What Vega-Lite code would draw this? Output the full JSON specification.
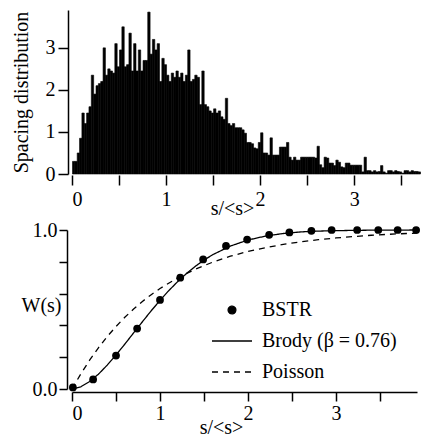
{
  "$schema": "https://vega.github.io/schema/vega-lite/v6.json",
  "padding": {"left": 10, "top": 10, "right": 0, "bottom": 0},
  "background": "white",
  "bounds": "flush",
  "spacing": 56,
  "config": {
    "font": "Liberation Serif",
    "view": {"stroke": null},
    "axis": {
      "grid": false,
      "labelFont": "Liberation Serif",
      "titleFont": "Liberation Serif",
      "labelFontSize": 20,
      "titleFontSize": 20,
      "labelColor": "black",
      "titleColor": "black",
      "titleFontWeight": "normal",
      "domainColor": "black",
      "tickColor": "black",
      "domainWidth": 1.5,
      "tickWidth": 1.5,
      "labelOverlap": false
    }
  },
  "datasets": {
    "hist": [
      {"s":0,"h":0.3},{"s":0.025,"h":0.3},{"s":0.05,"h":0.5},{"s":0.075,"h":0.85},{"s":0.1,"h":1.45},{"s":0.125,"h":1.2},{"s":0.15,"h":1.45},{"s":0.175,"h":1.6},
      {"s":0.2,"h":2.35},{"s":0.225,"h":1.9},{"s":0.25,"h":2.1},{"s":0.275,"h":2.15},{"s":0.3,"h":2.2},{"s":0.325,"h":3.0},{"s":0.35,"h":2.35},{"s":0.375,"h":2.5},
      {"s":0.4,"h":2.45},{"s":0.425,"h":2.4},{"s":0.45,"h":3.1},{"s":0.475,"h":2.55},{"s":0.5,"h":2.95},{"s":0.525,"h":3.5},{"s":0.55,"h":2.55},{"s":0.575,"h":2.6},
      {"s":0.6,"h":3.35},{"s":0.625,"h":2.45},{"s":0.65,"h":3.1},{"s":0.675,"h":2.45},{"s":0.7,"h":2.95},{"s":0.725,"h":2.45},{"s":0.75,"h":2.7},{"s":0.775,"h":2.7},
      {"s":0.8,"h":3.85},{"s":0.825,"h":2.85},{"s":0.85,"h":3.2},{"s":0.875,"h":2.95},{"s":0.9,"h":3.1},{"s":0.925,"h":2.2},{"s":0.95,"h":2.75},{"s":0.975,"h":2.6},
      {"s":1.0,"h":2.35},{"s":1.025,"h":2.2},{"s":1.05,"h":2.4},{"s":1.075,"h":2.3},{"s":1.1,"h":2.45},{"s":1.125,"h":2.3},{"s":1.15,"h":2.4},{"s":1.175,"h":2.2},
      {"s":1.2,"h":2.35},{"s":1.225,"h":2.95},{"s":1.25,"h":2.2},{"s":1.275,"h":2.25},{"s":1.3,"h":2.35},{"s":1.325,"h":2.3},{"s":1.35,"h":1.65},{"s":1.375,"h":2.45},
      {"s":1.4,"h":1.65},{"s":1.425,"h":1.6},{"s":1.45,"h":1.5},{"s":1.475,"h":1.45},{"s":1.5,"h":1.55},{"s":1.525,"h":1.45},{"s":1.55,"h":1.5},{"s":1.575,"h":1.36},
      {"s":1.6,"h":1.3},{"s":1.625,"h":1.8},{"s":1.65,"h":1.2},{"s":1.675,"h":1.15},{"s":1.7,"h":1.2},{"s":1.725,"h":1.1},{"s":1.75,"h":1.1},{"s":1.775,"h":1.1},
      {"s":1.8,"h":1.05},{"s":1.825,"h":0.97},{"s":1.85,"h":0.75},{"s":1.875,"h":0.75},{"s":1.9,"h":0.72},{"s":1.925,"h":0.62},{"s":1.95,"h":0.6},{"s":1.975,"h":0.75},
      {"s":2.0,"h":0.98},{"s":2.025,"h":0.5},{"s":2.05,"h":0.5},{"s":2.075,"h":0.45},{"s":2.1,"h":0.86},{"s":2.125,"h":0.45},{"s":2.15,"h":0.45},{"s":2.175,"h":0.45},
      {"s":2.2,"h":0.64},{"s":2.225,"h":0.64},{"s":2.25,"h":0.64},{"s":2.275,"h":0.75},{"s":2.3,"h":0.4},{"s":2.325,"h":0.33},{"s":2.35,"h":0.4},{"s":2.375,"h":0.33},
      {"s":2.4,"h":0.33},{"s":2.425,"h":0.4},{"s":2.45,"h":0.4},{"s":2.475,"h":0.4},{"s":2.5,"h":0.4},{"s":2.525,"h":0.4},{"s":2.55,"h":0.4},{"s":2.575,"h":0.38},
      {"s":2.6,"h":0.66},{"s":2.625,"h":0.22},{"s":2.65,"h":0.15},{"s":2.675,"h":0.4},{"s":2.7,"h":0.38},{"s":2.725,"h":0.26},{"s":2.75,"h":0.26},{"s":2.775,"h":0.2},
      {"s":2.8,"h":0.33},{"s":2.825,"h":0.28},{"s":2.85,"h":0.17},{"s":2.875,"h":0.15},{"s":2.9,"h":0.26},{"s":2.925,"h":0.26},{"s":2.95,"h":0.21},{"s":2.975,"h":0.21},
      {"s":3.0,"h":0.21},{"s":3.025,"h":0.21},{"s":3.05,"h":0.21},{"s":3.075,"h":0.05},{"s":3.1,"h":0.4},{"s":3.125,"h":0.08},{"s":3.15,"h":0.08},{"s":3.175,"h":0.05},
      {"s":3.2,"h":0.08},{"s":3.225,"h":0.05},{"s":3.25,"h":0.06},{"s":3.275,"h":0.2},{"s":3.3,"h":0.05},{"s":3.325,"h":0.02},{"s":3.35,"h":0.08},{"s":3.375,"h":0.08},
      {"s":3.4,"h":0.05},{"s":3.425,"h":0.08},{"s":3.45,"h":0.06},{"s":3.475,"h":0.05},{"s":3.5,"h":0.02},{"s":3.525,"h":0.08},{"s":3.55,"h":0.08},{"s":3.575,"h":0.05},
      {"s":3.6,"h":0.08},{"s":3.625,"h":0.06},{"s":3.65,"h":0.06},{"s":3.675,"h":0.05}
    ],
    "curves": [
      {"s":0,"W":0,"series":"Brody (β = 0.76)"},{"s":0.1,"W":0.014,"series":"Brody (β = 0.76)"},{"s":0.2,"W":0.047,"series":"Brody (β = 0.76)"},{"s":0.3,"W":0.093,"series":"Brody (β = 0.76)"},
      {"s":0.4,"W":0.150,"series":"Brody (β = 0.76)"},{"s":0.5,"W":0.214,"series":"Brody (β = 0.76)"},{"s":0.6,"W":0.282,"series":"Brody (β = 0.76)"},{"s":0.7,"W":0.353,"series":"Brody (β = 0.76)"},
      {"s":0.8,"W":0.423,"series":"Brody (β = 0.76)"},{"s":0.9,"W":0.492,"series":"Brody (β = 0.76)"},{"s":1.0,"W":0.557,"series":"Brody (β = 0.76)"},{"s":1.1,"W":0.619,"series":"Brody (β = 0.76)"},
      {"s":1.2,"W":0.675,"series":"Brody (β = 0.76)"},{"s":1.3,"W":0.726,"series":"Brody (β = 0.76)"},{"s":1.4,"W":0.771,"series":"Brody (β = 0.76)"},{"s":1.5,"W":0.811,"series":"Brody (β = 0.76)"},
      {"s":1.6,"W":0.845,"series":"Brody (β = 0.76)"},{"s":1.8,"W":0.899,"series":"Brody (β = 0.76)"},{"s":2.0,"W":0.937,"series":"Brody (β = 0.76)"},{"s":2.2,"W":0.962,"series":"Brody (β = 0.76)"},
      {"s":2.4,"W":0.978,"series":"Brody (β = 0.76)"},{"s":2.6,"W":0.988,"series":"Brody (β = 0.76)"},{"s":2.8,"W":0.993,"series":"Brody (β = 0.76)"},{"s":3.0,"W":0.996,"series":"Brody (β = 0.76)"},
      {"s":3.4,"W":0.999,"series":"Brody (β = 0.76)"},{"s":3.92,"W":1.0,"series":"Brody (β = 0.76)"},
      {"s":0,"W":0,"series":"Poisson"},{"s":0.1,"W":0.095,"series":"Poisson"},{"s":0.2,"W":0.181,"series":"Poisson"},{"s":0.3,"W":0.259,"series":"Poisson"},
      {"s":0.4,"W":0.330,"series":"Poisson"},{"s":0.5,"W":0.393,"series":"Poisson"},{"s":0.6,"W":0.451,"series":"Poisson"},{"s":0.7,"W":0.503,"series":"Poisson"},
      {"s":0.8,"W":0.551,"series":"Poisson"},{"s":0.9,"W":0.593,"series":"Poisson"},{"s":1.0,"W":0.632,"series":"Poisson"},{"s":1.2,"W":0.699,"series":"Poisson"},
      {"s":1.4,"W":0.753,"series":"Poisson"},{"s":1.6,"W":0.798,"series":"Poisson"},{"s":1.8,"W":0.835,"series":"Poisson"},{"s":2.0,"W":0.865,"series":"Poisson"},
      {"s":2.2,"W":0.889,"series":"Poisson"},{"s":2.4,"W":0.909,"series":"Poisson"},{"s":2.6,"W":0.926,"series":"Poisson"},{"s":2.8,"W":0.939,"series":"Poisson"},
      {"s":3.0,"W":0.950,"series":"Poisson"},{"s":3.2,"W":0.959,"series":"Poisson"},{"s":3.4,"W":0.967,"series":"Poisson"},{"s":3.6,"W":0.973,"series":"Poisson"},
      {"s":3.8,"W":0.978,"series":"Poisson"},{"s":3.92,"W":0.980,"series":"Poisson"}
    ],
    "points": [
      {"s":0.01,"W":0.01,"series":"BSTR"},{"s":0.24,"W":0.06,"series":"BSTR"},{"s":0.5,"W":0.21,"series":"BSTR"},{"s":0.74,"W":0.38,"series":"BSTR"},
      {"s":1.0,"W":0.56,"series":"BSTR"},{"s":1.23,"W":0.70,"series":"BSTR"},{"s":1.49,"W":0.815,"series":"BSTR"},{"s":1.75,"W":0.90,"series":"BSTR"},
      {"s":1.99,"W":0.94,"series":"BSTR"},{"s":2.24,"W":0.97,"series":"BSTR"},{"s":2.47,"W":0.985,"series":"BSTR"},{"s":2.72,"W":0.995,"series":"BSTR"},
      {"s":2.95,"W":1.0,"series":"BSTR"},{"s":3.24,"W":1.0,"series":"BSTR"},{"s":3.48,"W":1.0,"series":"BSTR"},{"s":3.70,"W":1.0,"series":"BSTR"},
      {"s":3.91,"W":1.0,"series":"BSTR"}
    ]
  },
  "vconcat": [
    {
      "width": 348,
      "height": 164,
      "data": {"name": "hist"},
      "mark": {"type": "bar", "color": "black", "stroke": "black", "strokeWidth": 0.6, "binSpacing": 0},
      "encoding": {
        "x": {
          "field": "s", "type": "quantitative",
          "bin": {"binned": true, "step": 0.025},
          "scale": {"domain": [0, 3.7], "nice": false},
          "axis": {
            "values": [0, 0.5, 1, 1.5, 2, 2.5, 3, 3.5],
            "tickCount": 20,
            "labelExpr": "datum.value % 1 === 0 ? datum.value : ''",
            "labelOverlap": false,
            "domain": false, "offset": 1, "tickSize": 10, "labelPadding": 4,
            "title": "s/<s>", "titleX": 160, "titleY": 33, "titleBaseline": "middle", "titleAlign": "center"
          }
        },
        "y": {
          "field": "h", "type": "quantitative",
          "scale": {"domain": [0, 3.9], "nice": false},
          "axis": {
            "values": [0, 1, 2, 3], "tickCount": 10, "format": "d", "offset": 4, "tickSize": 10, "labelPadding": 3,
            "labelOverlap": false,
            "title": "Spacing distribution", "titleX": -47, "titleY": 82, "titleBaseline": "middle", "titleAlign": "center"
          }
        }
      }
    },
    {
      "width": 345,
      "height": 159,
      "layer": [
        {
          "data": {"name": "curves"},
          "mark": {"type": "line", "strokeWidth": 1.3},
          "encoding": {
            "x": {
              "field": "s", "type": "quantitative",
              "scale": {"domain": [0, 3.92], "nice": false},
              "axis": {
                "values": [0, 0.5, 1, 1.5, 2, 2.5, 3, 3.5],
                "tickCount": 20,
                "labelExpr": "datum.value % 1 === 0 ? datum.value : ''",
                "labelOverlap": false,
                "offset": 3, "tickSize": 9, "labelPadding": 2,
                "title": "s/<s>", "titleX": 149, "titleY": 35, "titleBaseline": "middle", "titleAlign": "center"
              }
            },
            "y": {
              "field": "W", "type": "quantitative",
              "scale": {"domain": [0, 1], "nice": false},
              "axis": {
                "values": [0, 0.2, 0.4, 0.6, 0.8, 1],
                "tickCount": 20,
                "labelExpr": "datum.value < 0.01 || datum.value > 0.99 ? format(datum.value, '.1f') : ''",
                "labelOverlap": false,
                "offset": 5, "tickSize": 8, "labelPadding": 2,
                "title": "W(s)", "titleAngle": 0, "titleAlign": "right", "titleBaseline": "middle", "titleX": -6, "titleY": 75
              }
            },
            "color": {
              "field": "series", "type": "nominal",
              "scale": {"domain": ["BSTR", "Brody (β = 0.76)", "Poisson"], "range": ["black", "black", "black"]},
              "legend": {
                "orient": "none", "legendX": 139, "legendY": 279, "title": null,
                "labelFont": "Liberation Serif", "labelFontSize": 20, "labelColor": "black",
                "symbolSize": 900, "labelOffset": 9, "rowPadding": -7,
                "encode": {
                  "symbols": {
                    "update": {
                      "shape": {"signal": "datum.value === 'BSTR' ? 'circle' : 'stroke'"},
                      "size": {"signal": "datum.value === 'BSTR' ? 60 : 1600"},
                      "fill": {"signal": "datum.value === 'BSTR' ? 'black' : 'transparent'"},
                      "stroke": {"value": "black"},
                      "strokeDash": {"signal": "datum.value === 'Poisson' ? [6, 5] : [1, 0]"},
                      "strokeWidth": {"value": 1.3},
                      "opacity": {"value": 1}
                    }
                  }
                }
              }
            },
            "strokeDash": {
              "field": "series", "type": "nominal",
              "scale": {"domain": ["BSTR", "Brody (β = 0.76)", "Poisson"], "range": [[1, 0], [1, 0], [6, 5]]},
              "legend": null
            }
          }
        },
        {
          "data": {"name": "points"},
          "mark": {"type": "point", "filled": true, "size": 60, "opacity": 1, "shape": "circle"},
          "encoding": {
            "x": {"field": "s", "type": "quantitative"},
            "y": {"field": "W", "type": "quantitative"},
            "color": {"field": "series", "type": "nominal"}
          }
        }
      ]
    }
  ]
}
